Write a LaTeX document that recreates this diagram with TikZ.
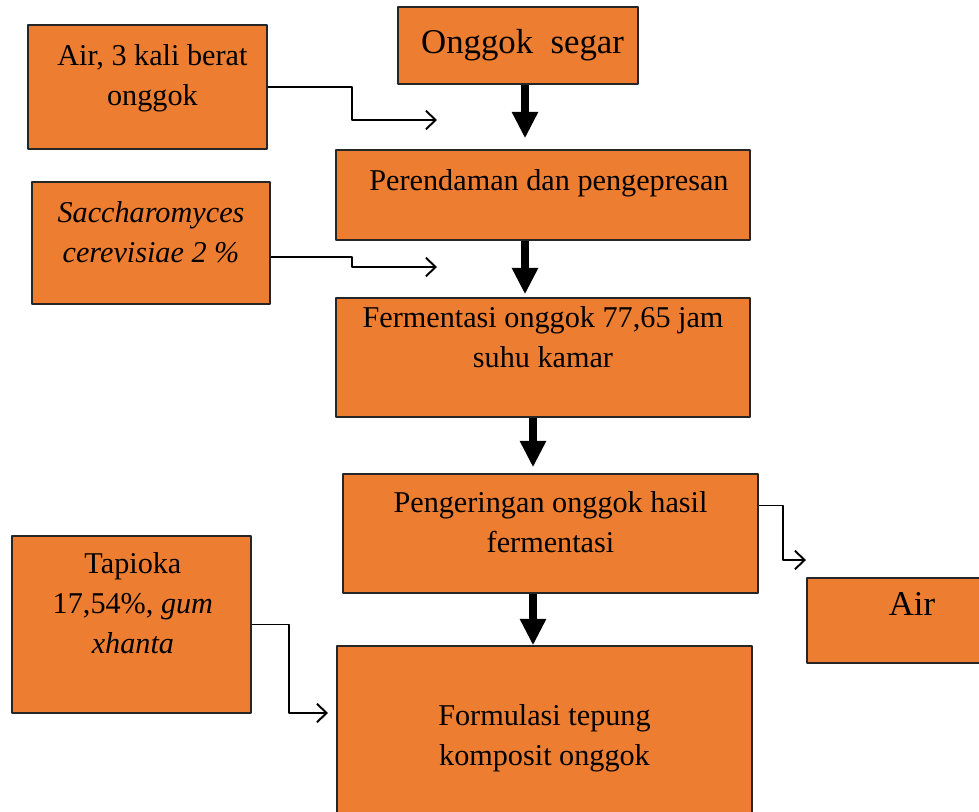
\documentclass[tikz,border=0pt]{standalone}
\usepackage{fontspec}
\setmainfont{Liberation Serif}
\usetikzlibrary{positioning,calc,arrows.meta}
\definecolor{oranye}{HTML}{ED7D31}

\begin{document}
\begin{tikzpicture}[x=0.02cm, y=-0.02cm, line join=round,
	kotak/.style={draw=black!85, fill=oranye, line width=0.8pt, inner sep=0pt},
	isi/.style={inner sep=0pt, align=center, font=\fontsize{17.2}{22.7}\selectfont},
	isibesar/.style={inner sep=0pt, align=center, font=\fontsize{19.8}{24}\selectfont},
	panahtebal/.style={line width=4.7pt, -{Triangle[width=14pt,length=15pt]}},
	panahtipis/.style={line width=1.1pt, -{Straight Barb[length=5.5pt,width=10.5pt]}}]
	\useasboundingbox (0,0) rectangle (979,811);
	\clip (0,0) rectangle (979,811);
	% kotak
	\node[kotak, minimum width=4.8cm, minimum height=1.54cm] (onggok) at (518,45.5) {};
	\node[kotak, minimum width=4.78cm, minimum height=2.48cm] (air) at (147.5,87) {};
	\node[kotak, minimum width=8.28cm, minimum height=1.8cm] (rendam) at (543,195) {};
	\node[kotak, minimum width=4.76cm, minimum height=2.44cm] (ragi) at (151,243) {};
	\node[kotak, minimum width=8.28cm, minimum height=2.38cm] (ferm) at (543,357.5) {};
	\node[kotak, minimum width=8.3cm, minimum height=2.38cm] (kering) at (550.5,533.5) {};
	\node[kotak, minimum width=3.86cm, minimum height=1.7cm] (airout) at (903.5,620.5) {};
	\node[kotak, minimum width=4.78cm, minimum height=3.54cm] (tapioka) at (131.5,624.5) {};
	\node[kotak, minimum width=8.3cm, minimum height=3.36cm] (formulasi) at (544.5,730) {};
	% teks
	\node[isibesar, below=13pt of onggok.north, xshift=2.6pt] (tonggok) {Onggok\ \ segar};
	\node[isi, below=11.3pt of air.north, xshift=2.8pt] (tair) {Air, 3 kali berat\\onggok};
	\node[isi, below=11.3pt of rendam.north, xshift=3.4pt] (trendam) {Perendaman dan pengepresan};
	\node[isi, below=11.3pt of ragi.north] (tragi) {\textit{Saccharomyces}\\\textit{cerevisiae 2 \%}};
	\node[isi, below=5.1pt of ferm.north] (tferm) {Fermentasi onggok 77,65 jam\\suhu kamar};
	\node[isi, below=10.2pt of kering.north] (tkering) {Pengeringan onggok hasil\\fermentasi};
	\node[isibesar, below=8.5pt of airout.north, xshift=4.8pt] (tairout) {Air};
	\node[isi, below=9.6pt of tapioka.north, xshift=0.8pt] (ttapioka) {Tapioka\\17,54\%, \textit{gum}\\\textit{xhanta}};
	\node[isi, below=33.4pt of formulasi.north] (tformulasi) {Formulasi tepung\\komposit onggok};
	% panah
	\draw[panahtebal] ($(onggok.south)+(7,0)$) -- ($(rendam.north)+(-18,-11)$);
	\draw[panahtebal] ($(rendam.south)+(-18,0)$) -- ($(ferm.north)+(-18,-3)$);
	\draw[panahtebal] ($(ferm.south)+(-10,0)$) -- ($(kering.north)+(-17.5,-6)$);
	\draw[panahtebal] ($(kering.south)+(-17.5,0)$) -- ($(formulasi.north)+(-11.5,0)$);
	\coordinate (c1) at (437,120);
	\coordinate (c2) at (437,267);
	\coordinate (c3) at (328,713);
	\coordinate (c4) at (806,560);
	\draw[panahtipis] (air.east) -| (352,120) -- (c1);
	\draw[panahtipis] ($(ragi.east)+(0,14)$) -| (352,267) -- (c2);
	\draw[panahtipis] (tapioka.east) -| (289,713) -- (c3);
	\draw[panahtipis] ($(kering.east)+(0,-28)$) -| (783,560) -- (c4);
\end{tikzpicture}
\end{document}
